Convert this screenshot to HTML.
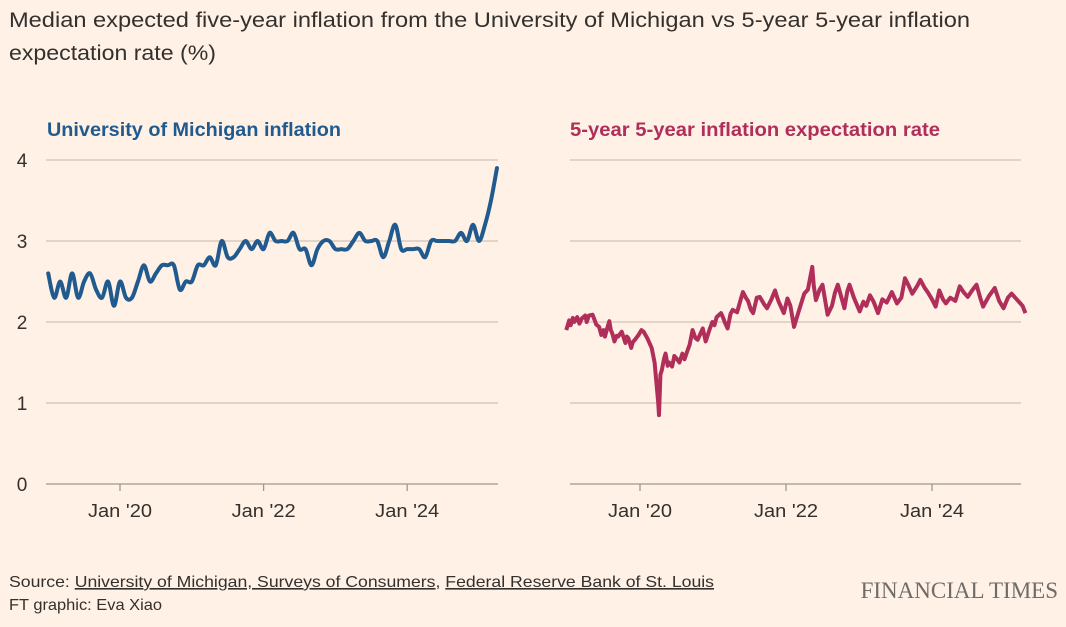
<!DOCTYPE html>
<html><head><meta charset="utf-8"><style>
html,body{margin:0;padding:0;background:#fff1e5;width:1066px;height:627px;overflow:hidden}
svg{display:block;font-family:"Liberation Sans",sans-serif}
</style></head><body>
<svg id="c" width="1066" height="627" viewBox="0 0 1066 627">
<text x="9" y="27" font-size="21" fill="#33302e" textLength="961" lengthAdjust="spacingAndGlyphs">Median expected five-year inflation from the University of Michigan vs 5-year 5-year inflation</text>
<text x="9" y="60" font-size="21" fill="#33302e" textLength="207" lengthAdjust="spacingAndGlyphs">expectation rate (%)</text>
<text x="47" y="136" font-size="19" font-weight="bold" fill="#205a8f" textLength="294" lengthAdjust="spacingAndGlyphs">University of Michigan inflation</text>
<text x="570" y="136" font-size="19" font-weight="bold" fill="#b02e5a" textLength="370" lengthAdjust="spacingAndGlyphs">5-year 5-year inflation expectation rate</text>
<g id="grid"></g>
<g id="lines"></g>
<text x="9" y="587" font-size="16" fill="#33302e" textLength="705" lengthAdjust="spacingAndGlyphs">Source: <tspan text-decoration="underline">University of Michigan, Surveys of Consumers</tspan>, <tspan text-decoration="underline">Federal Reserve Bank of St. Louis</tspan></text>
<text x="9" y="610" font-size="16" fill="#33302e" textLength="153" lengthAdjust="spacingAndGlyphs">FT graphic: Eva Xiao</text>
<text x="1058" y="598" font-size="23" text-anchor="end" fill="#6e6b68" font-family="Liberation Serif, serif">FINANCIAL TIMES</text>
</svg>
<script>
const yTicks=[0,1,2,3,4];
const xTickYears=[2020,2022,2024];
const xTickLabels=["Jan '20","Jan '22","Jan '24"];
const umichStartYear=2019;
const umichValues=[2.6,2.3,2.5,2.3,2.6,2.3,2.5,2.6,2.4,2.3,2.5,2.2,2.5,2.3,2.3,2.5,2.7,2.5,2.6,2.7,2.7,2.7,2.4,2.5,2.5,2.7,2.7,2.8,2.7,3.0,2.8,2.8,2.9,3.0,2.9,3.0,2.9,3.1,3.0,3.0,3.0,3.1,2.9,2.9,2.7,2.9,3.0,3.0,2.9,2.9,2.9,3.0,3.1,3.0,3.0,3.0,2.8,3.0,3.2,2.9,2.9,2.9,2.9,2.8,3.0,3.0,3.0,3.0,3.0,3.1,3.0,3.2,3.0,3.2,3.5,3.9];
const fwdDates=[2018.99,2019.03,2019.05,2019.08,2019.1,2019.14,2019.17,2019.2,2019.25,2019.27,2019.3,2019.35,2019.38,2019.4,2019.44,2019.47,2019.5,2019.52,2019.55,2019.58,2019.6,2019.62,2019.65,2019.68,2019.7,2019.75,2019.8,2019.82,2019.84,2019.88,2019.9,2019.93,2019.98,2020.02,2020.05,2020.1,2020.13,2020.16,2020.2,2020.23,2020.25,2020.26,2020.28,2020.3,2020.33,2020.35,2020.38,2020.4,2020.44,2020.47,2020.5,2020.54,2020.58,2020.61,2020.64,2020.68,2020.72,2020.76,2020.79,2020.83,2020.86,2020.9,2020.95,2020.99,2021.02,2021.05,2021.11,2021.14,2021.16,2021.2,2021.24,2021.27,2021.33,2021.38,2021.41,2021.45,2021.48,2021.52,2021.55,2021.6,2021.64,2021.7,2021.74,2021.8,2021.85,2021.88,2021.9,2021.97,2022.02,2022.06,2022.11,2022.17,2022.25,2022.3,2022.36,2022.38,2022.41,2022.46,2022.5,2022.57,2022.63,2022.67,2022.71,2022.76,2022.8,2022.84,2022.87,2022.93,2023.01,2023.06,2023.1,2023.15,2023.2,2023.26,2023.32,2023.38,2023.45,2023.52,2023.58,2023.63,2023.68,2023.73,2023.8,2023.84,2023.9,2023.94,2024.0,2024.05,2024.1,2024.15,2024.19,2024.25,2024.32,2024.38,2024.44,2024.49,2024.55,2024.61,2024.66,2024.7,2024.78,2024.86,2024.92,2024.98,2025.04,2025.09,2025.14,2025.19,2025.24,2025.28];
const fwdValues=[1.9,2.02,1.96,2.05,2.0,2.06,1.98,2.04,2.08,2.0,2.08,2.09,2.02,1.97,1.94,1.84,1.9,1.82,1.92,2.01,1.9,1.86,1.76,1.83,1.82,1.88,1.74,1.82,1.8,1.68,1.75,1.78,1.84,1.9,1.88,1.8,1.74,1.68,1.5,1.2,1.0,0.85,1.35,1.41,1.55,1.61,1.46,1.5,1.45,1.58,1.55,1.5,1.61,1.54,1.62,1.72,1.9,1.8,1.78,1.86,1.92,1.76,1.9,2.0,1.96,2.06,2.11,2.05,2.0,1.92,2.1,2.15,2.12,2.28,2.37,2.3,2.26,2.15,2.11,2.3,2.31,2.22,2.17,2.28,2.39,2.3,2.25,2.11,2.29,2.2,1.94,2.12,2.35,2.4,2.68,2.45,2.27,2.4,2.46,2.09,2.2,2.36,2.46,2.3,2.17,2.38,2.46,2.3,2.13,2.25,2.2,2.33,2.25,2.11,2.28,2.24,2.37,2.23,2.3,2.54,2.45,2.35,2.45,2.52,2.42,2.37,2.28,2.19,2.39,2.28,2.23,2.3,2.26,2.44,2.36,2.31,2.39,2.46,2.3,2.19,2.32,2.42,2.26,2.17,2.3,2.35,2.3,2.25,2.2,2.11];
const NS='http://www.w3.org/2000/svg';
const grid=document.getElementById('grid'),lines=document.getElementById('lines');
const yScale=v=>484-81*v;
const panels=[{x0:46,x1:498,xs:y=>120+(y-2020)*71.8},{x0:570,x1:1021,xs:y=>640+(y-2020)*73}];
function mk(tag,attrs,parent){const e=document.createElementNS(NS,tag);for(const k in attrs)e.setAttribute(k,attrs[k]);parent.appendChild(e);return e;}
yTicks.forEach(t=>{
  if(t>0){panels.forEach((p,pi)=>{
    const l=mk('line',{x1:p.x0,x2:p.x1,y1:yScale(t),y2:yScale(t),stroke:'#d0c4b8','stroke-width':1.3},grid);
    
    
  });}
  const tx=mk('text',{x:22,y:yScale(t)+7,'font-size':19,'text-anchor':'middle',fill:'#33302e'},grid);
  tx.textContent=t;
  
  
});
panels.forEach((p,pi)=>{
  const ax=mk('line',{x1:p.x0,x2:p.x1,y1:484,y2:484,stroke:'#9e9892','stroke-width':1.3},grid);
  
  
  xTickYears.forEach((yr,i)=>{
    const x=p.xs(yr);
    const tk=mk('line',{x1:x,x2:x,y1:484,y2:491,stroke:'#9e9892','stroke-width':1.3},grid);
    
    
    const tl=mk('text',{x:x-32,y:517,'font-size':18,fill:'#33302e',textLength:64,lengthAdjust:'spacingAndGlyphs'},grid);
    tl.textContent=xTickLabels[i];
    
    
  });
});
const pts=umichValues.map((v,i)=>[panels[0].xs(umichStartYear+i/12),yScale(v)]);
let d='M'+pts[0][0]+','+pts[0][1];
for(let i=0;i<pts.length-1;i++){
  const p0=pts[Math.max(0,i-1)],p1=pts[i],p2=pts[i+1],p3=pts[Math.min(pts.length-1,i+2)];
  const c1=[p1[0]+(p2[0]-p0[0])/6,p1[1]+(p2[1]-p0[1])/6],c2=[p2[0]-(p3[0]-p1[0])/6,p2[1]-(p3[1]-p1[1])/6];
  d+=` C${c1[0]},${c1[1]} ${c2[0]},${c2[1]} ${p2[0]},${p2[1]}`;
}
const l1=mk('path',{d:d,fill:'none',stroke:'#205a8f','stroke-width':4,'stroke-linejoin':'round','stroke-linecap':'round'},lines);


const d2=fwdDates.map((t,i)=>(i?'L':'M')+panels[1].xs(t)+','+yScale(fwdValues[i])).join(' ');
const l2=mk('path',{d:d2,fill:'none',stroke:'#b02e5a','stroke-width':4,'stroke-linejoin':'round'},lines);


</script>
</body></html>
